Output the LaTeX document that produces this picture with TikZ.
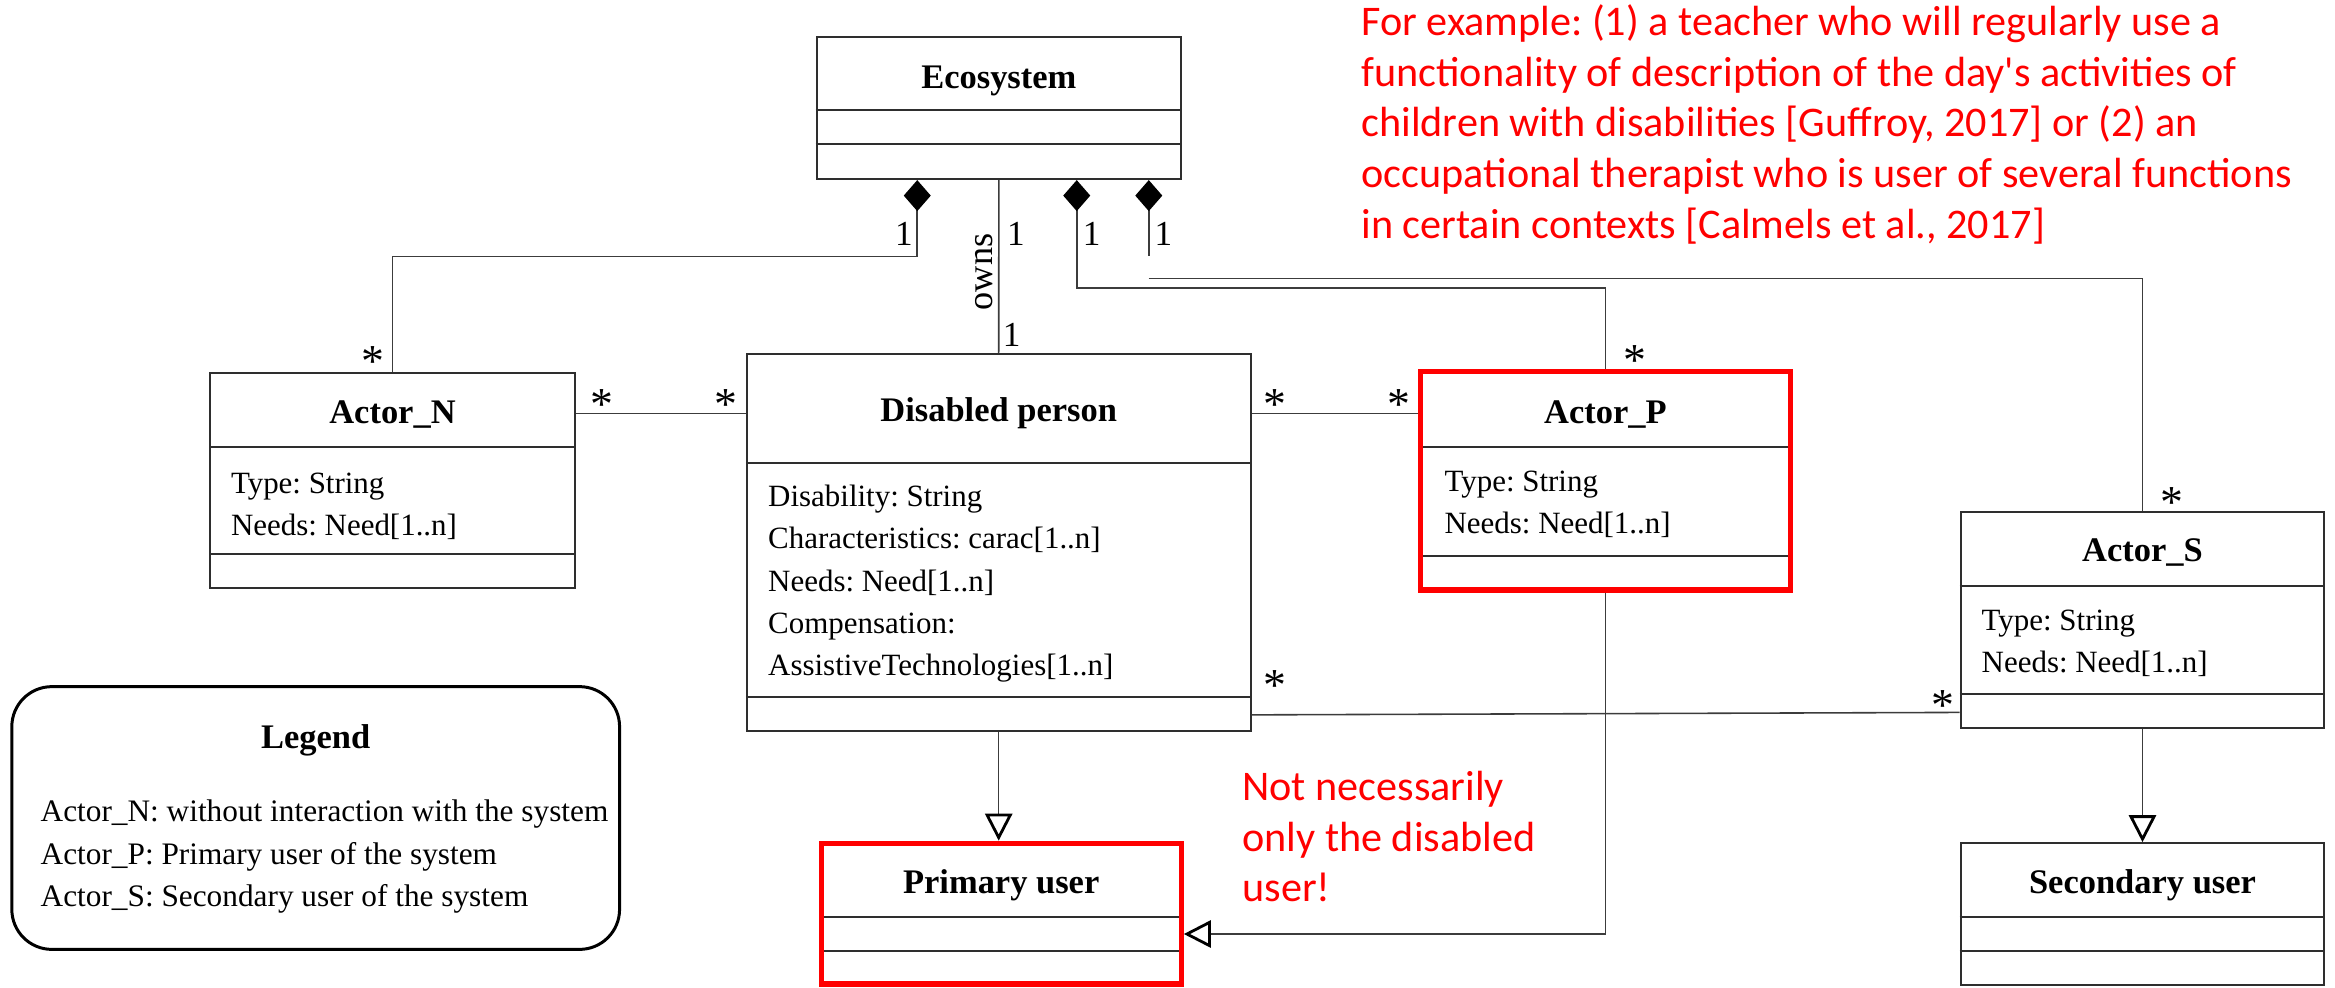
\documentclass[tikz,border=0pt]{standalone}
\usepackage{fontspec}
\setmainfont{Liberation Serif}
\newfontfamily\notefont{Carlito}
\usetikzlibrary{arrows.meta}
\frenchspacing

\definecolor{edge}{HTML}{2E2E2E}
\definecolor{wire}{HTML}{3C3C3C}
\definecolor{note}{HTML}{FF0000}

\begin{document}
\begin{tikzpicture}[x=0.01cm,y=-0.01cm,
  cls/.style={draw=edge, line width=0.6pt, inner sep=0pt},
  hl/.style={draw=note, line width=1.5pt, inner sep=0pt},
  part/.style={draw=edge, line width=0.6pt},
  hlpart/.style={part, shorten <=1.5pt, shorten >=1.5pt},
  wireline/.style={draw=wire, line width=0.45pt},
  comp/.style={wireline, {Diamond[length=0.31cm,width=0.27cm,color=black,fill=black]}-},
  gen/.style={wireline, -{Triangle[open,length=0.27cm,width=0.27cm,line width=0.8pt,color=black]}},
  title/.style={font=\fontsize{9.8}{12}\selectfont\bfseries, inner sep=0pt, anchor=base},
  attr/.style={font=\fontsize{8.8}{12}\selectfont, inner sep=0pt, anchor=base west},
  mult/.style={font=\fontsize{10}{12}\selectfont, inner sep=0pt},
  many/.style={font=\fontsize{13}{14}\selectfont, inner sep=0pt, yshift=-2pt},
  remark/.style={font=\notefont\fontsize{12}{14.5}\selectfont, text=note, inner sep=0pt, anchor=base west},
  legendbox/.style={draw=black, line width=0.85pt, rounded corners=0.4cm, inner sep=0pt}
]
\useasboundingbox (0,0) rectangle (2335,987);

% ---------- Ecosystem ----------
\node[cls, minimum width=3.643cm, minimum height=1.423cm] (eco) at (998.85,107.85) {};
\draw[part] (eco.west |- 0,110) -- (eco.east |- 0,110);
\draw[part] (eco.west |- 0,144) -- (eco.east |- 0,144);
\node[title] (ecot) at (998.85,88.3) {Ecosystem};

% ---------- Actor_N ----------
\node[cls, minimum width=3.642cm, minimum height=2.15cm] (actn) at (392.5,480.8) {};
\draw[part] (actn.west |- 0,446.7) -- (actn.east |- 0,446.7);
\draw[part] (actn.west |- 0,554) -- (actn.east |- 0,554);
\node[title] (actnt) at (392.5,423.3) {Actor\_N};
\node[attr] (actna) at (230.3,493) {\vtop{\hbox{Type: String}\hbox{Needs: Need[1..n]}}};

% ---------- Disabled person ----------
\node[cls, minimum width=5.034cm, minimum height=3.764cm] (dis) at (998.7,542.5) {};
\draw[part] (dis.west |- 0,463.3) -- (dis.east |- 0,463.3);
\draw[part] (dis.west |- 0,696.7) -- (dis.east |- 0,696.7);
\node[title] (dist) at (998.7,421.7) {Disabled person};
\node[attr] (disa) at (767.5,506.7) {\vtop{\hbox{Disability: String}\hbox{Characteristics: carac[1..n]}\hbox{Needs: Need[1..n]}\hbox{Compensation:}\hbox{AssistiveTechnologies[1..n]}}};

% ---------- Actor_P ----------
\node[hl, minimum width=3.697cm, minimum height=2.184cm] (actp) at (1605.4,480.85) {};
\draw[hlpart] (actp.west |- 0,446.7) -- (actp.east |- 0,446.7);
\draw[hlpart] (actp.west |- 0,555.7) -- (actp.east |- 0,555.7);
\node[title] (actpt) at (1605.4,423) {Actor\_P};
\node[attr] (actpa) at (1443.9,491.7) {\vtop{\hbox{Type: String}\hbox{Needs: Need[1..n]}}};

% ---------- Actor_S ----------
\node[cls, minimum width=3.636cm, minimum height=2.16cm] (acts) at (2142.5,620.3) {};
\draw[part] (acts.west |- 0,586) -- (acts.east |- 0,586);
\draw[part] (acts.west |- 0,694.3) -- (acts.east |- 0,694.3);
\node[title] (actst) at (2142.5,561.7) {Actor\_S};
\node[attr] (actsa) at (1981,630.7) {\vtop{\hbox{Type: String}\hbox{Needs: Need[1..n]}}};

% ---------- Primary user ----------
\node[hl, minimum width=3.597cm, minimum height=1.405cm] (prim) at (1001.2,913.6) {};
\draw[hlpart] (prim.west |- 0,917.3) -- (prim.east |- 0,917.3);
\draw[hlpart] (prim.west |- 0,950.7) -- (prim.east |- 0,950.7);
\node[title] (primt) at (1001.2,893.3) {Primary user};

% ---------- Secondary user ----------
\node[cls, minimum width=3.636cm, minimum height=1.417cm] (sec) at (2142.5,914.15) {};
\draw[part] (sec.west |- 0,917.3) -- (sec.east |- 0,917.3);
\draw[part] (sec.west |- 0,951) -- (sec.east |- 0,951);
\node[title] (sect) at (2142.5,893.3) {Secondary user};

% ---------- Legend ----------
\node[legendbox, minimum width=6.074cm, minimum height=2.626cm] (legend) at (315.7,818) {};
\node[title] (legendt) at (315.7,748.3) {Legend};
\node[attr, font=\fontsize{8.9}{12.05}\selectfont] (legenda) at (40,821.7) {\vtop{\hbox{Actor\_N: without interaction with the system}\hbox{Actor\_P: Primary user of the system}\hbox{Actor\_S: Secondary user of the system}}};

% ---------- Compositions from Ecosystem ----------
\draw[comp] ([xshift=-0.8155cm]eco.south) -- ++(0,76.3) -| (actn.north);
\draw[wireline] (eco.south) -- (dis.north);
\draw[comp] ([xshift=0.7785cm]eco.south) -- ++(0,108) -| (actp.north);
\draw[comp] ([xshift=1.4985cm]eco.south) -- ++(0,76.3) coordinate (ecoend);
\coordinate (acslink) at (1148.7,278.3);
\draw[wireline] (acslink) -| (acts.north);

% ---------- Associations ----------
\draw[wireline] (actn.east |- dist) -- (dis.west |- dist);
\draw[wireline] (dis.east |- dist) -- (actp.west |- dist);
\draw[wireline] ([yshift=0.17cm]dis.south east) -- ([yshift=0.17cm]acts.south west);

% ---------- Generalizations ----------
\draw[gen] (dis.south) -- (dis.south |- prim.north);
\draw[gen] (actp.south) |- (prim.east |- 0,934);
\draw[gen] (acts.south) -- (sec.north);

% ---------- Multiplicities ----------
\node[mult] (m1) at (904,233.5) {1};
\node[mult] (m2) at (1016,233.5) {1};
\node[mult] (m3) at (1011.7,335) {1};
\node[mult] (m4) at (1091.7,233.5) {1};
\node[mult] (m5) at (1163.3,233.5) {1};
\node[mult, font=\fontsize{10.3}{12}\selectfont, rotate=90] (owns) at (984,272) {owns};

\node[many] (s1) at (373,354) {*};
\node[many] (s2) at (602,397) {*};
\node[many] (s3) at (726.4,397) {*};
\node[many] (s4) at (1275,397) {*};
\node[many] (s5) at (1399,397) {*};
\node[many] (s6) at (1635,353) {*};
\node[many] (s7) at (1274.6,678) {*};
\node[many] (s8) at (1942.7,698) {*};
\node[many] (s9) at (2171.7,495) {*};

% ---------- Remarks ----------
\node[remark] (rem1) at (1360.7,35) {\vtop{\hbox{For example: (1) a teacher who will regularly use a}\hbox{functionality of description of the day's activities of}\hbox{children with disabilities [Guffroy, 2017] or (2) an}\hbox{occupational therapist who is user of several functions}\hbox{in certain contexts [Calmels et al., 2017]}}};
\node[remark] (rem2) at (1241.7,800) {\vtop{\hbox{Not necessarily}\hbox{only the disabled}\hbox{user!}}};
\end{tikzpicture}
\end{document}
